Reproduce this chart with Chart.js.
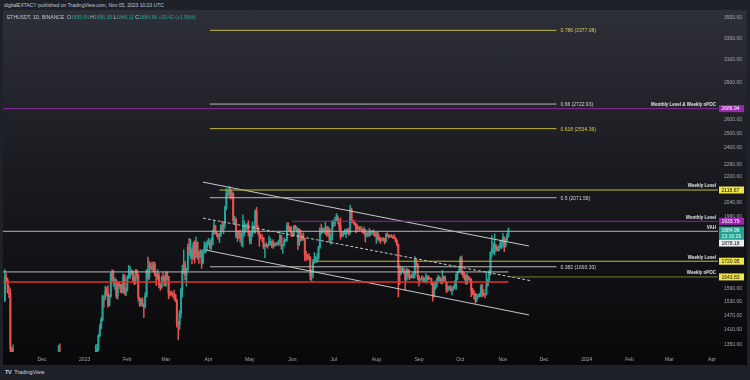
<!DOCTYPE html>
<html><head><meta charset="utf-8">
<script src="https://cdn.jsdelivr.net/npm/chart.js@4.4.1/dist/chart.umd.min.js"></script>
<style>
html,body{margin:0;padding:0;}
body{width:750px;height:380px;overflow:hidden;background:#1f2128;position:relative;font-family:"Liberation Sans",Arial,sans-serif;}
#hdr{position:absolute;left:4px;top:2px;font-size:5px;line-height:6px;color:#c3c6ce;white-space:nowrap;}
#pane{position:absolute;left:3px;top:10px;width:744px;height:355px;background:linear-gradient(to bottom,#2e3038 0%,#1a1b20 45%,#08080a 100%);}
#pane canvas{position:absolute;left:0;top:0;}
#legend{position:absolute;left:4px;top:4px;font-size:5px;line-height:6px;color:#c8cad0;white-space:nowrap;z-index:2;}
#legend .v{color:#26a69a}
#ftr{position:absolute;left:5px;top:369px;font-size:5.5px;line-height:7px;color:#d1d4dc;white-space:nowrap;}
#ftr b{letter-spacing:-0.4px;margin-right:3px;}
</style></head>
<body>
<div id="hdr">digitalEXTACY published on TradingView.com, Nov 05, 2023 10:23 UTC</div>
<div id="pane">
<div id="legend">ETHUSDT, 1D, BINANCE&nbsp;&nbsp;O<span class="v">1855.54</span> H<span class="v">1896.35</span> L<span class="v">1846.11</span> C<span class="v">1884.96</span> <span class="v">+29.42 (+1.59%)</span></div>
<canvas id="c" width="744" height="355"></canvas>
</div>
<div id="ftr"><b>TV</b>TradingView</div>
<script>
// ---------------- DATA ----------------
const firstCandleDate = '2022-11-04';
const firstOpen = 1532;
const closes = [
// Nov 2022 (4..30)
1645,1628,1572,1568,1334,1100,1298,1287,1256,1221,1242,1252,1216,1201,1212,1218,1141,1108,1135,1183,1203,1199,1205,1195,1169,1217,1295,
// Dec
1276,1294,1241,1280,1259,1271,1232,1282,1265,1266,1263,1274,1319,1310,1266,1167,1186,1187,1168,1217,1211,1218,1218,1220,1217,1225,1212,1190,1200,1199,1196,
// Jan 2023
1200,1214,1214,1256,1251,1269,1264,1287,1321,1335,1384,1417,1451,1551,1550,1577,1568,1514,1554,1660,1627,1628,1629,1557,1612,1602,1600,1572,1648,1567,1585,
// Feb
1641,1643,1665,1670,1631,1616,1673,1651,1546,1515,1539,1514,1506,1555,1675,1643,1694,1690,1681,1703,1657,1644,1650,1607,1595,1641,1632,1605,
// Mar
1663,1646,1568,1567,1565,1564,1561,1534,1437,1430,1478,1585,1672,1704,1652,1677,1792,1761,1780,1738,1806,1741,1819,1752,1743,1773,1712,1772,1792,1794,1821,
// Apr
1825,1794,1809,1871,1909,1871,1864,1849,1860,1910,1891,1918,2012,2099,2094,2119,2078,2100,1939,1946,1851,1874,1864,1846,1865,1908,1910,1895,1917,1871,
// May
1830,1872,1908,1876,1993,1894,1873,1849,1847,1843,1797,1807,1804,1801,1821,1823,1822,1802,1812,1812,1806,1819,1855,1801,1805,1829,1830,1910,1891,1902,1874,
// Jun
1862,1907,1891,1893,1809,1880,1832,1848,1838,1753,1752,1741,1738,1649,1664,1718,1726,1720,1737,1790,1890,1874,1893,1873,1903,1861,1890,1828,1852,1934,
// Jul
1925,1938,1955,1936,1910,1851,1868,1862,1865,1879,1878,1871,2003,1935,1929,1922,1910,1897,1891,1892,1891,1872,1889,1853,1859,1870,1861,1874,1879,1862,1856,
// Aug
1870,1840,1833,1829,1836,1834,1824,1855,1853,1849,1848,1850,1845,1842,1827,1808,1685,1662,1671,1684,1667,1632,1679,1656,1648,1644,1656,1656,1728,1706,1646,
// Sep
1628,1637,1635,1627,1631,1634,1645,1637,1636,1616,1552,1593,1608,1626,1642,1636,1620,1636,1644,1623,1581,1592,1593,1580,1589,1595,1595,1655,1668,1671,
// Oct
1733,1663,1656,1647,1611,1646,1633,1632,1580,1567,1566,1539,1552,1556,1557,1600,1565,1565,1563,1605,1629,1656,1765,1786,1786,1803,1781,1776,1796,1810,1815,
// Nov 2023 (1..5)
1847,1799,1833,1855.54,1884.96
];
const highs = [
1680,1660,1638,1600,1587,1337,1348,1306,1290,1268,1290,1283,1265,1225,1230,1222,1225,1152,1137,1188,1214,1207,1230,1225,1196,1225,1300,
1310,1296,1296,1285,1305,1275,1272,1287,1295,1275,1280,1280,1346,1352,1310,1270,1190,1198,1190,1223,1221,1220,1225,1220,1225,1225,1230,1215,1205,1204,1204,
1202,1220,1221,1273,1259,1274,1270,1292,1348,1350,1390,1430,1460,1560,1555,1600,1595,1603,1560,1665,1680,1675,1640,1632,1620,1623,1610,1610,1658,1655,1590,
1650,1700,1695,1680,1674,1648,1680,1680,1658,1548,1542,1547,1520,1570,1680,1742,1720,1712,1718,1716,1717,1660,1680,1664,1610,1647,1665,1649,
1670,1667,1646,1575,1578,1570,1582,1563,1541,1442,1490,1590,1700,1780,1720,1688,1810,1840,1835,1790,1819,1827,1847,1820,1770,1780,1776,1780,1823,1814,1826,
1840,1830,1840,1885,1936,1912,1875,1865,1868,1915,1935,1922,2022,2129,2110,2141,2127,2112,2100,1962,1952,1880,1880,1885,1870,1970,1937,1915,1922,1938,
1875,1880,1930,1910,1999,2014,1910,1862,1862,1860,1843,1809,1817,1808,1852,1840,1825,1833,1815,1819,1820,1831,1875,1855,1808,1843,1836,1925,1926,1906,1903,
1877,1908,1913,1905,1893,1893,1885,1860,1870,1840,1772,1754,1760,1745,1679,1730,1765,1745,1760,1799,1898,1918,1897,1893,1928,1903,1904,1894,1860,1938,
1942,1958,1978,1967,1942,1953,1875,1878,1890,1890,1893,1896,2028,2010,1939,1940,1923,1916,1903,1905,1904,1893,1903,1890,1871,1879,1895,1883,1882,1886,1875,
1870,1876,1857,1845,1842,1844,1840,1867,1870,1860,1858,1860,1853,1860,1843,1832,1810,1700,1690,1694,1685,1670,1687,1681,1677,1650,1660,1669,1745,1731,1710,
1650,1637,1650,1646,1641,1660,1650,1649,1640,1638,1617,1620,1625,1639,1653,1646,1637,1675,1648,1648,1623,1603,1600,1603,1596,1603,1627,1660,1671,1683,
1743,1748,1671,1665,1654,1660,1647,1640,1636,1590,1580,1568,1562,1563,1568,1607,1609,1583,1567,1669,1633,1676,1770,1855,1816,1865,1808,1795,1802,1825,1831,
1867,1847,1838,1866,1896.35
];
const lows = [
1530,1617,1568,1547,1228,1073,1100,1211,1240,1200,1180,1233,1198,1186,1195,1197,1136,1076,1082,1130,1176,1180,1196,1194,1155,1165,1214,
1265,1260,1238,1240,1250,1245,1220,1227,1260,1262,1260,1245,1265,1305,1255,1155,1160,1180,1163,1160,1205,1200,1212,1215,1210,1210,1206,1185,1186,1188,1190,
1192,1195,1206,1213,1246,1238,1259,1260,1283,1312,1325,1380,1412,1446,1505,1537,1555,1505,1510,1548,1620,1600,1585,1545,1540,1590,1570,1568,1570,1560,1556,
1578,1635,1638,1655,1623,1607,1610,1636,1532,1508,1510,1508,1460,1500,1550,1633,1630,1680,1675,1668,1649,1604,1630,1592,1581,1590,1619,1600,
1599,1630,1542,1554,1558,1550,1540,1530,1420,1368,1410,1460,1550,1660,1630,1600,1675,1750,1735,1708,1730,1712,1742,1731,1710,1740,1685,1708,1762,1763,1780,
1805,1783,1778,1805,1862,1862,1850,1836,1817,1850,1880,1865,1900,2000,2080,2083,2063,2070,1927,1917,1844,1824,1838,1819,1800,1793,1852,1871,1889,1852,
1810,1810,1850,1870,1866,1888,1862,1797,1835,1822,1785,1738,1794,1787,1803,1806,1791,1787,1797,1800,1805,1800,1816,1782,1760,1798,1822,1824,1880,1874,1850,
1850,1850,1885,1873,1780,1800,1824,1827,1830,1725,1722,1730,1728,1630,1626,1640,1710,1715,1715,1730,1787,1862,1870,1870,1860,1850,1851,1817,1807,1830,
1904,1908,1935,1922,1885,1835,1848,1851,1860,1844,1865,1855,1862,1926,1925,1912,1870,1880,1887,1880,1881,1870,1862,1820,1847,1850,1850,1855,1871,1855,1847,
1812,1830,1823,1813,1826,1825,1810,1820,1850,1840,1846,1845,1840,1838,1820,1800,1550,1608,1654,1670,1660,1580,1627,1640,1630,1637,1640,1635,1640,1695,1630,
1600,1625,1632,1620,1620,1614,1618,1630,1632,1606,1532,1550,1585,1596,1617,1625,1612,1610,1623,1622,1570,1577,1584,1576,1560,1580,1588,1584,1630,1665,
1670,1655,1640,1630,1609,1611,1630,1620,1552,1560,1540,1522,1529,1548,1550,1552,1551,1555,1546,1559,1600,1620,1652,1745,1761,1754,1770,1775,1772,1788,1785,
1792,1770,1794,1825,1846.11
];
// open of each daily candle = prior day's close (24/7 market)
const opens = [firstOpen].concat(closes.slice(0, -1));

// time-axis labels
const tickDates = ['2022-12-01','2023-01-01','2023-02-01','2023-03-01','2023-04-01','2023-05-01','2023-06-01','2023-07-01','2023-08-01','2023-09-01','2023-10-01','2023-11-01','2023-12-01','2024-01-01','2024-02-01','2024-03-01','2024-04-01'];
const tickLabels = ['Dec','2023','Feb','Mar','Apr','May','Jun','Jul','Aug','Sep','Oct','Nov','Dec','2024','Feb','Mar','Apr'];
// price-axis labels
const priceTicks = [1350,1410,1470,1530,1590,1960,2040,2200,2280,2400,2500,2600,2900,3100,3300,3500];

// Fibonacci retracement levels
const fibRatios = ['0.786','0.66','0.618','0.5','0.382'];
const fibPrices = [3377.08,2722.93,2534.36,2071.58,1693.30];
const fibStart = '2023-04-02';
const fibEnd = '2023-12-10';

// horizontal key levels
const levelNames = ['Monthly Level & Weekly nPOC','Weekly Level','Monthly Level','VAH','Weekly Level','Weekly nPOC'];
const levelPrices = [2686.94,2118.67,1933.79,1878.18,1720.95,1643.83];
const levelStarts = ['2022-10-01','2023-04-09','2023-06-01','2022-10-01','2023-06-19','2023-11-06'];
const levelKinds = ['monthly','weekly','monthly','vah','weekly','npoc'];

// other horizontal lines (support zone)
const zonePrices = [1668, 1620];
const zoneKinds = ['white','red'];
const zoneStart = '2022-10-01';
const zoneEnd = '2023-11-05';

// descending channel (date, price)
const channelUpper = [['2023-03-28',2168],['2023-11-20',1799]];
const channelMid   = [['2023-03-28',1952],['2023-11-22',1625]];
const channelLower = [['2023-03-30',1778],['2023-11-20',1471]];

const lastPrice = 1884.96;
const countdown = '13:16:29';

// ---------------- HELPERS / STYLES ----------------
const ORIGIN = Date.UTC(2022,11,1);
const dayOf = s => { const [y,m,d] = s.split('-').map(Number); return (Date.UTC(y,m-1,d) - ORIGIN) / 86400000; };
const firstDay = dayOf(firstCandleDate);
const FAR_RIGHT = dayOf('2024-06-01');

const UP = '#26a69a', DOWN = '#ef5350';
const FONT = '"Liberation Sans", Arial, sans-serif';
const CLIP = {left:0, top:0, right:0, bottom:0};
const lineStyle = {
  yellow:  {c:'#c4b93c', w:1},
  white:   {c:'#b8b8b8', w:1},
  monthly: {c:'#8a2aa0', w:1},
  weekly:  {c:'#c4b93c', w:1},
  vah:     {c:'#b4b4b4', w:1},
  npoc:    {c:'#7d7630', w:1},
  red:     {c:'#e3302d', w:1.4},
  channel: {c:'#c8c8c8', w:1}
};
const fibKind = {'0.786':'yellow','0.66':'white','0.618':'yellow','0.5':'white','0.382':'white'};
const fibText = {yellow:'#d9cf55', white:'#d4d4d4'};
const boxStyle = {
  monthly:{bg:'#9c27b0', fg:'#ffffff'},
  weekly: {bg:'#f0e447', fg:'#131722'},
  npoc:   {bg:'#f0e447', fg:'#131722'},
  vah:    {bg:'#ececec', fg:'#131722'},
  last:   {bg:'#22a396', fg:'#ffffff'}
};

// ---------------- DATASETS ----------------
const candleColors = closes.map((c,i) => c >= opens[i] ? UP : DOWN);
const wickData = closes.map((c,i) => ({x: firstDay + i, y: [lows[i], highs[i]]}));
const bodyData = closes.map((c,i) => ({x: firstDay + i, y: [opens[i], c]}));

const datasets = [];
function hLine(x0, x1, p, st, dash) {
  datasets.push({type:'line', data:[{x:x0,y:p},{x:x1,y:p}], borderColor:st.c, borderWidth:st.w,
    pointRadius:0, fill:false, tension:0, borderDash: dash || [], order:0, clip: CLIP});
}
fibPrices.forEach((p,i) => hLine(dayOf(fibStart), dayOf(fibEnd), p, lineStyle[fibKind[fibRatios[i]]]));
levelPrices.forEach((p,i) => hLine(dayOf(levelStarts[i]), FAR_RIGHT, p, lineStyle[levelKinds[i]]));
zonePrices.forEach((p,i) => hLine(dayOf(zoneStart), dayOf(zoneEnd), p, lineStyle[zoneKinds[i]]));
[[channelUpper,null],[channelMid,[3,2]],[channelLower,null]].forEach(([ch,dash]) => {
  datasets.push({type:'line', data: ch.map(([d,p]) => ({x: dayOf(d), y: p})), borderColor: lineStyle.channel.c,
    borderWidth: lineStyle.channel.w, borderDash: dash || [], pointRadius:0, fill:false, order:0, clip: CLIP});
});
datasets.push({type:'bar', data: wickData, backgroundColor: candleColors, borderWidth:0, barThickness:0.8, grouped:false, order:2, clip: CLIP});
datasets.push({type:'bar', data: bodyData, backgroundColor: candleColors, borderWidth:0, barThickness:1.3, grouped:false, order:1, clip: CLIP});

// ---------------- OVERLAY TEXT / PRICE BOXES ----------------
const overlay = {
  id: 'overlay',
  afterDraw(chart) {
    const {ctx, chartArea: ca} = chart;
    const x = chart.scales.x, y = chart.scales.y;
    ctx.save();
    ctx.textBaseline = 'middle';
    // fib labels
    ctx.font = '5px ' + FONT;
    ctx.textAlign = 'left';
    fibPrices.forEach((p,i) => {
      ctx.fillStyle = fibText[fibKind[fibRatios[i]]];
      ctx.fillText(fibRatios[i] + ' (' + p.toFixed(2) + ')', x.getPixelForValue(dayOf(fibEnd)) + 4, y.getPixelForValue(p) + 0.5);
    });
    // level names
    ctx.font = 'bold 4.5px ' + FONT;
    ctx.textAlign = 'right';
    ctx.fillStyle = '#e2e3e6';
    levelPrices.forEach((p,i) => ctx.fillText(levelNames[i], ca.right - 2, y.getPixelForValue(p) - 3.8));
    // price boxes
    const bx = ca.right + 1, bw = 25;
    ctx.font = '5px ' + FONT;
    ctx.textAlign = 'left';
    function box(yc, h, lines, st) {
      ctx.fillStyle = st.bg;
      ctx.fillRect(bx, yc - 3.5, bw, h);
      ctx.fillStyle = st.fg;
      lines.forEach((t,k) => ctx.fillText(t, bx + 2.5, yc + 0.4 + k*6));
    }
    levelPrices.forEach((p,i) => {
      if (levelKinds[i] === 'vah') return;
      box(y.getPixelForValue(p), 7, [p.toFixed(2)], boxStyle[levelKinds[i]]);
    });
    const yl = y.getPixelForValue(lastPrice);
    box(yl, 13, [lastPrice.toFixed(2), countdown], boxStyle.last);
    const vi = levelKinds.indexOf('vah');
    box(yl + 13, 7, [levelPrices[vi].toFixed(2)], boxStyle.vah);
    ctx.restore();
  }
};

const zeroPad = s => { s.paddingTop = 0; s.paddingBottom = 0; s.paddingLeft = 0; s.paddingRight = 0; };

new Chart(document.getElementById('c'), {
  data: { datasets },
  options: {
    responsive: false,
    animation: false,
    events: [],
    layout: { padding: 0 },
    plugins: { legend: {display:false}, tooltip: {enabled:false} },
    scales: {
      x: {
        type: 'linear', bounds: 'data', offset: false,
        min: -28.35, max: 491.35,
        grid: {display:false, drawTicks:false, offset:false}, border: {display:false},
        afterBuildTicks: s => { s.ticks = tickDates.map(d => ({value: dayOf(d)})); },
        afterFit: s => { s.height = 13; zeroPad(s); },
        ticks: { autoSkip:false, maxRotation:0, padding:5, color:'#a4a7b0',
          font:{size:5, family:FONT}, callback: (v, i) => tickLabels[i] }
      },
      y: {
        type: 'logarithmic', position: 'right', bounds: 'data', beginAtZero: false,
        min: 1320.3, max: 3583.6,
        grid: {display:false, drawTicks:false}, border: {display:false},
        afterBuildTicks: s => { s.ticks = priceTicks.map(v => ({value: v})); },
        afterFit: s => { s.width = 29; zeroPad(s); },
        ticks: { autoSkip:false, padding:6, color:'#a4a7b0', z: 1,
          font:{size:5, family:FONT}, callback: v => Number(v).toFixed(2) }
      }
    }
  },
  plugins: [overlay]
});
</script>
</body></html>
